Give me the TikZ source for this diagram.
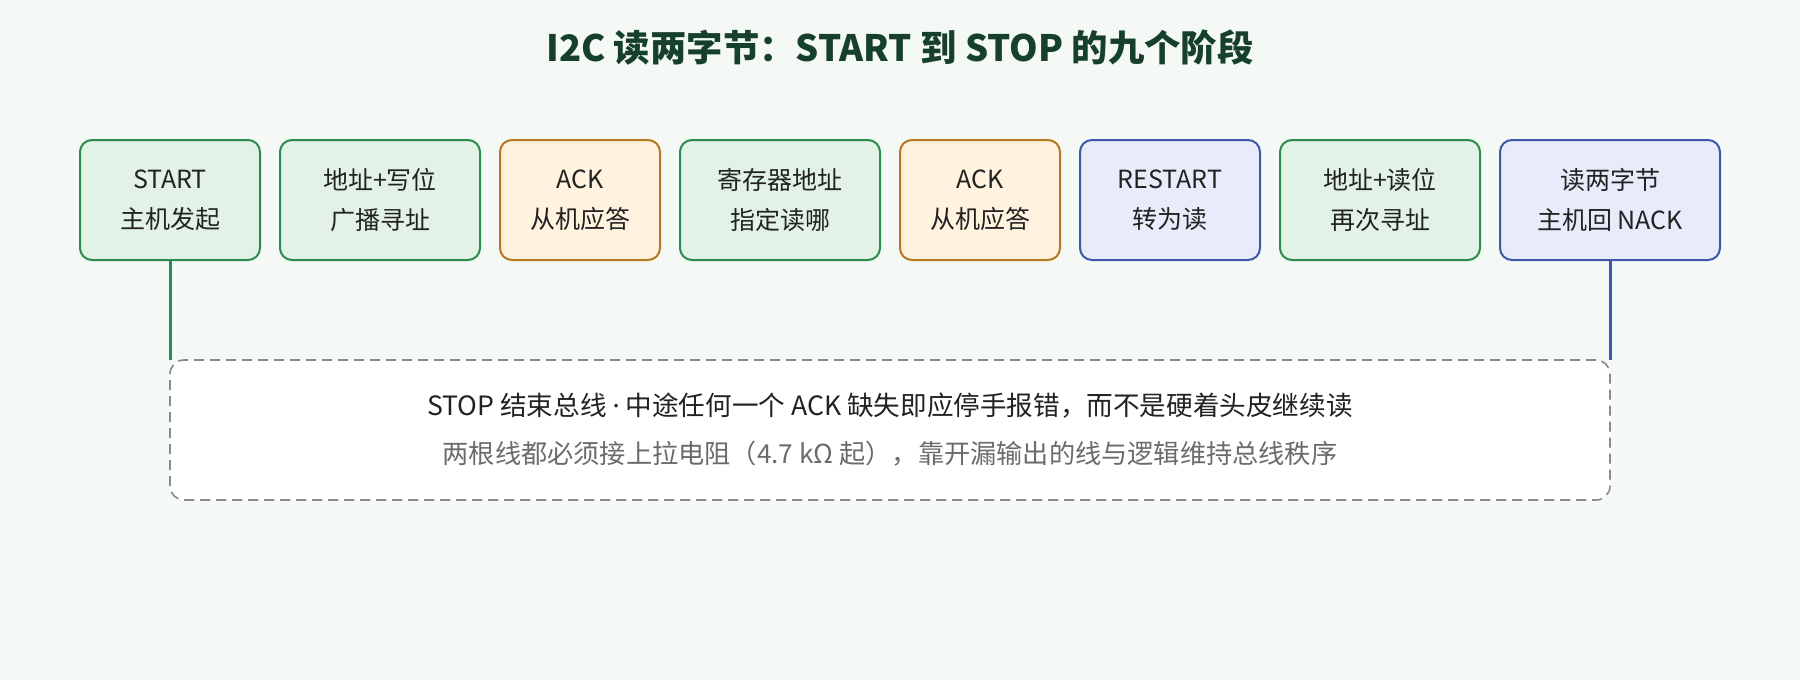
\documentclass[tikz,border=0pt]{standalone}
\usepackage{fontspec}
\setmainfont{Noto Sans CJK SC}
\newfontfamily\dotfont{Noto Sans}
\usetikzlibrary{positioning,calc}

\definecolor{pagebg}{HTML}{F4F9F5}
\definecolor{titlecol}{HTML}{17402A}
\definecolor{hostline}{HTML}{2E8B4F}
\definecolor{hostfill}{HTML}{E2F2E7}
\definecolor{ackline}{HTML}{B5791F}
\definecolor{ackfill}{HTML}{FFF3E0}
\definecolor{readline}{HTML}{3F57A6}
\definecolor{readfill}{HTML}{E8EBFA}
\definecolor{stagetext}{HTML}{222222}
\definecolor{notegray}{HTML}{6B6B6B}
\definecolor{noteline}{HTML}{8A8A8A}

\tikzset{
    stage/.style={draw, rounded corners=6pt, line width=1pt, outer sep=0pt, minimum height=60pt,
        align=center, text=stagetext, font=\fontsize{12.5}{20}\selectfont},
    hoststage/.style={stage, draw=hostline, fill=hostfill},
    ackstage/.style={stage, draw=ackline, fill=ackfill},
    readstage/.style={stage, draw=readline, fill=readfill},
    notebox/.style={draw=noteline, fill=white, dashed, dash pattern=on 5pt off 3pt,
        line width=0.8pt, outer sep=0pt, rounded corners=7pt, align=center, text=stagetext,
        font=\fontsize{13.3}{24}\selectfont},
}

\begin{document}
\begin{tikzpicture}
    \fill[pagebg] (0,0) rectangle (900pt,-340pt);
    \useasboundingbox (0,0) rectangle (900pt,-340pt);

    \node[font=\fontsize{18.2}{22}\selectfont\bfseries, text=titlecol] (title) at (450pt,-24pt)
        {I2C 读两字节：START 到 STOP 的九个阶段};

    % the nine phases, left to right
    \node[hoststage, minimum width=90pt] (start) at (85pt,-100pt) {START\\主机发起};
    \node[hoststage, minimum width=100pt, right=10pt of start] (addrw) {地址+写位\\广播寻址};
    \node[ackstage, minimum width=80pt, right=10pt of addrw] (ackone) {ACK\\从机应答};
    \node[hoststage, minimum width=100pt, right=10pt of ackone] (regaddr) {寄存器地址\\指定读哪};
    \node[ackstage, minimum width=80pt, right=10pt of regaddr] (acktwo) {ACK\\从机应答};
    \node[readstage, minimum width=90pt, right=10pt of acktwo] (restart) {RESTART\\转为读};
    \node[hoststage, minimum width=100pt, right=10pt of restart] (addrr) {地址+读位\\再次寻址};
    \node[readstage, minimum width=110pt, right=10pt of addrr] (nack) {读两字节\\主机回 NACK};

    \node[notebox, minimum width=720pt, minimum height=70pt, anchor=north] (stop)
        at ($(start.south)!.5!(nack.south)+(0,-50pt)$)
        {STOP 结束总线 {\dotfont·} 中途任何一个 ACK 缺失即应停手报错，而不是硬着头皮继续读\\
         {\fontsize{13.1}{24}\selectfont\color{notegray}两根线都必须接上拉电阻（4.7 kΩ 起），靠开漏输出的线与逻辑维持总线秩序}};

    \draw[hostline, line width=1.5pt] (start.south) -- (start.south |- stop.north);
    \draw[readline, line width=1.5pt] (nack.south) -- (nack.south |- stop.north);
\end{tikzpicture}
\end{document}
